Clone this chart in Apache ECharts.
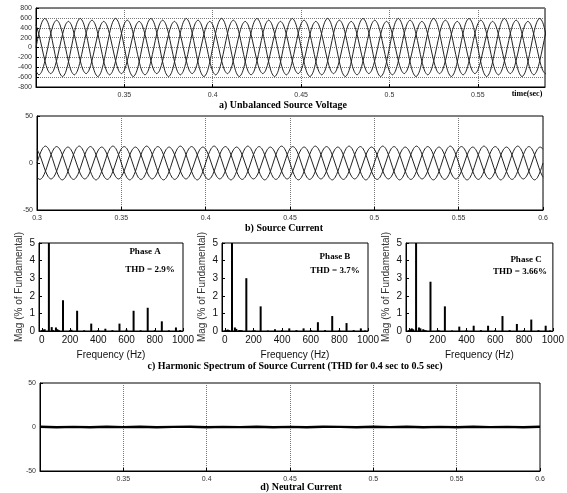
<!DOCTYPE html>
<html><head><meta charset="utf-8">
<script src="https://cdn.jsdelivr.net/npm/echarts@6/dist/echarts.min.js"></script>
<style>html,body{margin:0;padding:0;background:#fff}#c{width:567px;height:493px}</style>
</head><body><div id="c"></div><script>
// ---------- data ----------
const T0 = 0.3, DT = 1 / 600;           // waveform sample time base (s)
const voltA = [
0,295,511,590,511,295,0,-295,-511,-590,-511,-295,
0,295,511,590,511,295,0,-295,-511,-590,-511,-295,
0,295,511,590,511,295,0,-295,-511,-590,-511,-295,
0,295,511,590,511,295,0,-295,-511,-590,-511,-295,
0,295,511,590,511,295,0,-295,-511,-590,-511,-295,
0,295,511,590,511,295,0,-295,-511,-590,-511,-295,
0,295,511,590,511,295,0,-295,-511,-590,-511,-295,
0,295,511,590,511,295,0,-295,-511,-590,-511,-295,
0,295,511,590,511,295,0,-295,-511,-590,-511,-295,
0,295,511,590,511,295,0,-295,-511,-590,-511,-295,
0,295,511,590,511,295,0,-295,-511,-590,-511,-295,
0,295,511,590,511,295,0,-295,-511,-590,-511,-295,
0,295,511,590,511,295,0,-295,-511,-590,-511,-295,
0,295,511,590,511,295,0,-295,-511,-590,-511,-295,
0,295,511,590,511,295,0,-295,-511,-590,-511,-295,
0];
const voltB = [
-481,-555,-481,-278,0,278,481,555,481,278,0,-278,
-481,-555,-481,-278,0,278,481,555,481,278,0,-278,
-481,-555,-481,-278,0,278,481,555,481,278,0,-278,
-481,-555,-481,-278,0,278,481,555,481,278,0,-278,
-481,-555,-481,-278,0,278,481,555,481,278,0,-278,
-481,-555,-481,-278,0,278,481,555,481,278,0,-278,
-481,-555,-481,-278,0,278,481,555,481,278,0,-278,
-481,-555,-481,-278,0,278,481,555,481,278,0,-278,
-481,-555,-481,-278,0,278,481,555,481,278,0,-278,
-481,-555,-481,-278,0,278,481,555,481,278,0,-278,
-481,-555,-481,-278,0,278,481,555,481,278,0,-278,
-481,-555,-481,-278,0,278,481,555,481,278,0,-278,
-481,-555,-481,-278,0,278,481,555,481,278,0,-278,
-481,-555,-481,-278,0,278,481,555,481,278,0,-278,
-481,-555,-481,-278,0,278,481,555,481,278,0,-278,
-481];
const voltC = [
459,265,0,-265,-459,-530,-459,-265,0,265,459,530,
459,265,0,-265,-459,-530,-459,-265,0,265,459,530,
459,265,0,-265,-459,-530,-459,-265,0,265,459,530,
459,265,0,-265,-459,-530,-459,-265,0,265,459,530,
459,265,0,-265,-459,-530,-459,-265,0,265,459,530,
459,265,0,-265,-459,-530,-459,-265,0,265,459,530,
459,265,0,-265,-459,-530,-459,-265,0,265,459,530,
459,265,0,-265,-459,-530,-459,-265,0,265,459,530,
459,265,0,-265,-459,-530,-459,-265,0,265,459,530,
459,265,0,-265,-459,-530,-459,-265,0,265,459,530,
459,265,0,-265,-459,-530,-459,-265,0,265,459,530,
459,265,0,-265,-459,-530,-459,-265,0,265,459,530,
459,265,0,-265,-459,-530,-459,-265,0,265,459,530,
459,265,0,-265,-459,-530,-459,-265,0,265,459,530,
459,265,0,-265,-459,-530,-459,-265,0,265,459,530,
459];
const currA = [
0,9,15.6,18,15.6,9,0,-9,-15.6,-18,-15.6,-9,
0,9,15.6,18,15.6,9,0,-9,-15.6,-18,-15.6,-9,
0,9,15.6,18,15.6,9,0,-9,-15.6,-18,-15.6,-9,
0,9,15.6,18,15.6,9,0,-9,-15.6,-18,-15.6,-9,
0,9,15.6,18,15.6,9,0,-9,-15.6,-18,-15.6,-9,
0,9,15.6,18,15.6,9,0,-9,-15.6,-18,-15.6,-9,
0,9,15.6,18,15.6,9,0,-9,-15.6,-18,-15.6,-9,
0,9,15.6,18,15.6,9,0,-9,-15.6,-18,-15.6,-9,
0,9,15.6,18,15.6,9,0,-9,-15.6,-18,-15.6,-9,
0,9,15.6,18,15.6,9,0,-9,-15.6,-18,-15.6,-9,
0,9,15.6,18,15.6,9,0,-9,-15.6,-18,-15.6,-9,
0,9,15.6,18,15.6,9,0,-9,-15.6,-18,-15.6,-9,
0,9,15.6,18,15.6,9,0,-9,-15.6,-18,-15.6,-9,
0,9,15.6,18,15.6,9,0,-9,-15.6,-18,-15.6,-9,
0,9,15.6,18,15.6,9,0,-9,-15.6,-18,-15.6,-9,
0];
const currB = [
-15.2,-17.5,-15.2,-8.8,0,8.8,15.2,17.5,15.2,8.8,0,-8.8,
-15.2,-17.5,-15.2,-8.8,0,8.8,15.2,17.5,15.2,8.8,0,-8.8,
-15.2,-17.5,-15.2,-8.8,0,8.8,15.2,17.5,15.2,8.8,0,-8.8,
-15.2,-17.5,-15.2,-8.8,0,8.8,15.2,17.5,15.2,8.8,0,-8.8,
-15.2,-17.5,-15.2,-8.8,0,8.8,15.2,17.5,15.2,8.8,0,-8.8,
-15.2,-17.5,-15.2,-8.8,0,8.8,15.2,17.5,15.2,8.8,0,-8.8,
-15.2,-17.5,-15.2,-8.8,0,8.8,15.2,17.5,15.2,8.8,0,-8.8,
-15.2,-17.5,-15.2,-8.8,0,8.8,15.2,17.5,15.2,8.8,0,-8.8,
-15.2,-17.5,-15.2,-8.8,0,8.8,15.2,17.5,15.2,8.8,0,-8.8,
-15.2,-17.5,-15.2,-8.8,0,8.8,15.2,17.5,15.2,8.8,0,-8.8,
-15.2,-17.5,-15.2,-8.8,0,8.8,15.2,17.5,15.2,8.8,0,-8.8,
-15.2,-17.5,-15.2,-8.8,0,8.8,15.2,17.5,15.2,8.8,0,-8.8,
-15.2,-17.5,-15.2,-8.8,0,8.8,15.2,17.5,15.2,8.8,0,-8.8,
-15.2,-17.5,-15.2,-8.8,0,8.8,15.2,17.5,15.2,8.8,0,-8.8,
-15.2,-17.5,-15.2,-8.8,0,8.8,15.2,17.5,15.2,8.8,0,-8.8,
-15.2];
const currC = [
14.7,8.5,0,-8.5,-14.7,-17,-14.7,-8.5,0,8.5,14.7,17,
14.7,8.5,0,-8.5,-14.7,-17,-14.7,-8.5,0,8.5,14.7,17,
14.7,8.5,0,-8.5,-14.7,-17,-14.7,-8.5,0,8.5,14.7,17,
14.7,8.5,0,-8.5,-14.7,-17,-14.7,-8.5,0,8.5,14.7,17,
14.7,8.5,0,-8.5,-14.7,-17,-14.7,-8.5,0,8.5,14.7,17,
14.7,8.5,0,-8.5,-14.7,-17,-14.7,-8.5,0,8.5,14.7,17,
14.7,8.5,0,-8.5,-14.7,-17,-14.7,-8.5,0,8.5,14.7,17,
14.7,8.5,0,-8.5,-14.7,-17,-14.7,-8.5,0,8.5,14.7,17,
14.7,8.5,0,-8.5,-14.7,-17,-14.7,-8.5,0,8.5,14.7,17,
14.7,8.5,0,-8.5,-14.7,-17,-14.7,-8.5,0,8.5,14.7,17,
14.7,8.5,0,-8.5,-14.7,-17,-14.7,-8.5,0,8.5,14.7,17,
14.7,8.5,0,-8.5,-14.7,-17,-14.7,-8.5,0,8.5,14.7,17,
14.7,8.5,0,-8.5,-14.7,-17,-14.7,-8.5,0,8.5,14.7,17,
14.7,8.5,0,-8.5,-14.7,-17,-14.7,-8.5,0,8.5,14.7,17,
14.7,8.5,0,-8.5,-14.7,-17,-14.7,-8.5,0,8.5,14.7,17,
14.7];
const NT0 = 0.3, NDT = 0.01;            // neutral current time base (s)
const neutral = [0.2,-0.3,0.1,-0.2,0.3,-0.1,0.2,-0.3,0.1,0.2,-0.2,0.1,-0.1,0.3,-0.2,0.1,
                 -0.3,0.2,0.1,-0.2,0.3,-0.1,0.2,-0.2,0.1,-0.3,0.2,-0.1,0.1,-0.2,0.2];

const freqs  = [0,10,20,30,50,70,80,100,110,120,150,200,210,250,300,350,400,450,500,550,600,650,700,750,800,850,900,950,980];
const specA  = [0.05,0.08,0.1,0,100,0.22,0.05,0.2,0.1,0.05,1.75,0.05,0.07,1.15,0.04,0.42,0.05,0.13,0.05,0.42,0.08,1.15,0.04,1.32,0.05,0.55,0.04,0.2,0.05];
const specB  = [0.03,0.05,0.08,0.05,100,0.2,0.12,0.05,0.05,0.03,3.0,0.04,0.03,1.4,0.03,0.1,0.05,0.15,0.05,0.15,0.05,0.5,0.05,0.85,0.05,0.45,0.05,0.15,0.03];
const specC  = [0.05,0.1,0.15,0.1,100,0.2,0.15,0.1,0.05,0.03,2.8,0.05,0.03,1.4,0.03,0.25,0.05,0.3,0.05,0.3,0.05,0.85,0.05,0.4,0.05,0.65,0.05,0.3,0.03];
const freqTicks = [0,200,400,600,800,1000];
const thdLabels = ['THD = 2.9%','THD = 3.7%','THD = 3.66%'];
const phaseLabels = ['Phase A','Phase B','Phase C'];

// ---------- chart ----------
const SANS = 'Liberation Sans', SERIF = 'Liberation Serif';
const chart = echarts.init(document.getElementById('c'), null, {renderer:'canvas'});

const frame = {show:true, borderColor:'#000', borderWidth:1};
const grids = [
  Object.assign({left:36, top:8,  width:509, height:79}, frame),   // a
  Object.assign({left:37, top:116, width:506, height:94}, frame),  // b
  Object.assign({left:39, top:243, width:144, height:88}, frame),  // A
  Object.assign({left:222, top:243, width:146, height:88}, frame), // B
  Object.assign({left:406, top:243, width:150, height:88}, frame), // C
  Object.assign({left:40, top:383, width:500, height:88}, frame)   // d
];
const dotted = {show:true, lineStyle:{type:'dotted', color:'#777', width:1}};
const fmtT = v => String(Math.round(v * 100) / 100);
function tAxis(gi, max, showMin) {
  return {type:'value', gridIndex:gi, min:0.3, max:max, interval:0.05,
    axisLine:{onZero:false, lineStyle:{color:'#000'}}, axisTick:{inside:true, length:3, lineStyle:{color:'#000'}},
    axisLabel:{showMinLabel:showMin, showMaxLabel:true, fontSize:7, color:'#333', fontFamily:SANS, margin:5, formatter:fmtT},
    splitLine:dotted};
}
function vAxis(gi, min, max, interval, grid) {
  return {type:'value', gridIndex:gi, min:min, max:max, interval:interval,
    axisLine:{onZero:false, lineStyle:{color:'#000'}}, axisTick:{inside:true, length:3, lineStyle:{color:'#000'}},
    axisLabel:{fontSize:7, color:'#333', fontFamily:SANS, margin:4},
    splitLine: grid ? dotted : {show:false}};
}
function fAxis(gi) {
  return {type:'value', gridIndex:gi, min:-20, max:1000,
    axisLine:{onZero:false, lineStyle:{color:'#000'}},
    axisTick:{inside:true, length:3, customValues:freqTicks, lineStyle:{color:'#000'}},
    axisLabel:{customValues:freqTicks, fontSize:10, color:'#111', fontFamily:SANS, margin:4, formatter: v => String(v)},
    splitLine:{show:false},
    name:'Frequency (Hz)', nameLocation:'middle', nameGap:19,
    nameTextStyle:{fontSize:10, color:'#111', fontFamily:SANS}};
}
function mAxis(gi) {
  return {type:'value', gridIndex:gi, min:0, max:5, interval:1,
    axisLine:{onZero:false, lineStyle:{color:'#000'}}, axisTick:{inside:true, length:3, lineStyle:{color:'#000'}},
    axisLabel:{fontSize:10, color:'#111', fontFamily:SANS, margin:4},
    splitLine:{show:false},
    name:'Mag (% of Fundamental)', nameLocation:'middle', nameGap:15,
    nameTextStyle:{fontSize:10, color:'#333', fontFamily:SANS}};
}

const xAxes = [tAxis(0, 0.588, false), tAxis(1, 0.6, true), fAxis(2), fAxis(3), fAxis(4), tAxis(5, 0.6, false)];
xAxes[0].axisLabel.showMaxLabel = false;
const yAxes = [vAxis(0, -800, 800, 200, true), vAxis(1, -50, 50, 50, false), mAxis(2), mAxis(3), mAxis(4), vAxis(5, -50, 50, 50, false)];

const wave = (arr, gi) => ({type:'line', xAxisIndex:gi, yAxisIndex:gi, showSymbol:false, smooth:0.3,
  clip:true, silent:true, lineStyle:{color:'#222', width:1},
  data: arr.map((v, i) => [T0 + i * DT, v])});
const spec = (arr, gi) => ({type:'bar', xAxisIndex:gi, yAxisIndex:gi, barWidth:2, clip:true, silent:true,
  itemStyle:{color:'#000'}, data: freqs.map((f, i) => [f, arr[i]])});

const series = [
  wave(voltA, 0), wave(voltB, 0), wave(voltC, 0),
  wave(currA, 1), wave(currB, 1), wave(currC, 1),
  spec(specA, 2), spec(specB, 3), spec(specC, 4),
  {type:'line', xAxisIndex:5, yAxisIndex:5, showSymbol:false, silent:true, clip:true,
   lineStyle:{color:'#000', width:2.4}, data: neutral.map((v, i) => [NT0 + i * NDT, v])}
];

const txt = (text, x, y, size) => ({type:'text', x:x, y:y, silent:true,
  style:{text:text, fill:'#000', font:'bold ' + size + 'px "' + SERIF + '"', textAlign:'center', textVerticalAlign:'middle'}});
const graphic = [
  txt('a) Unbalanced Source Voltage', 283, 105, 10),
  txt('time(sec)', 527, 94, 8),
  txt('b) Source Current', 284, 228, 10),
  txt(phaseLabels[0], 145, 252, 9), txt(thdLabels[0], 150, 270, 9),
  txt(phaseLabels[1], 335, 257, 9), txt(thdLabels[1], 335, 271, 9),
  txt(phaseLabels[2], 526, 260, 9), txt(thdLabels[2], 520, 272, 9),
  txt('c) Harmonic Spectrum of Source Current (THD for 0.4 sec to 0.5 sec)', 295, 366, 10),
  txt('d) Neutral Current', 301, 487, 10)
];

chart.setOption({animation:false, backgroundColor:'#fff', grid:grids, xAxis:xAxes, yAxis:yAxes, series:series, graphic:graphic});
</script></body></html>
